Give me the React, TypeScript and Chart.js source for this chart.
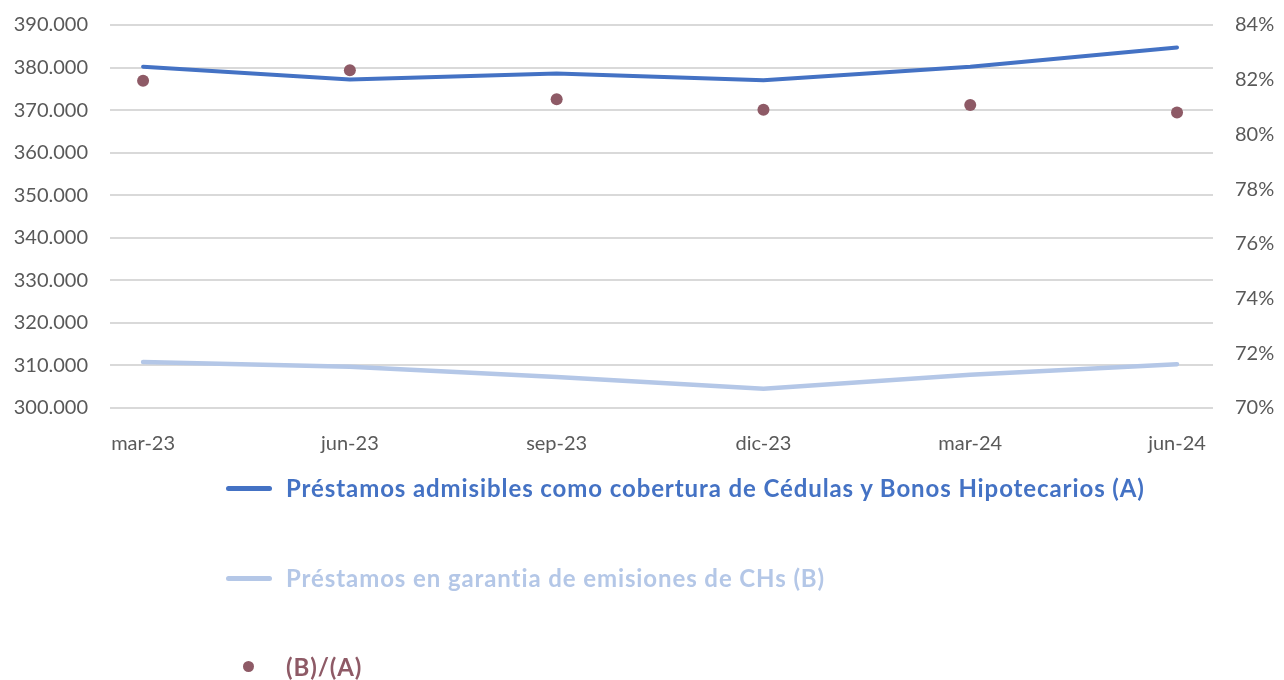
import React, { useEffect, useRef } from "react";
import { Chart, registerables } from "chart.js";

Chart.register(...registerables);

const categories = ["mar-23", "jun-23", "sep-23", "dic-23", "mar-24", "jun-24"];
const admisibles = [380200, 377200, 378600, 377000, 380200, 384700];
const garantia = [310800, 309700, 307300, 304500, 307800, 310300];
const ratio = [0.8196, 0.8235, 0.8129, 0.809, 0.8108, 0.808];

const labelA = "Préstamos admisibles como cobertura de Cédulas y Bonos Hipotecarios (A)";
const labelB = "Préstamos en garantia de emisiones de CHs (B)";
const labelC = "(B)/(A)";

const colA = "#4472C4";
const colB = "#B4C7E7";
const colC = "#8E5A66";
const FONT = "Lato, 'Open Sans', sans-serif";

const fmtThousands = (v: number) =>
  String(Math.round(v)).replace(/\B(?=(\d{3})+(?!\d))/g, ".");

export default function App() {
  const ref = useRef<HTMLCanvasElement | null>(null);

  useEffect(() => {
    document.body.style.margin = "0";
    const ctx = ref.current!.getContext("2d")!;
    const chart = new Chart(ctx, {
      type: "line",
      data: {
        datasets: [
          {
            label: labelA,
            data: admisibles.map((v, i) => ({ x: i, y: v })),
            borderColor: colA,
            backgroundColor: colA,
            borderWidth: 4,
            pointRadius: 0,
            borderCapStyle: "round",
            yAxisID: "y",
          },
          {
            label: labelB,
            data: garantia.map((v, i) => ({ x: i, y: v })),
            borderColor: colB,
            backgroundColor: colB,
            borderWidth: 4.5,
            pointRadius: 0,
            borderCapStyle: "round",
            yAxisID: "y",
          },
          {
            label: labelC,
            data: ratio.map((v, i) => ({ x: i, y: v })),
            showLine: false,
            borderColor: colC,
            backgroundColor: colC,
            pointRadius: 6,
            pointBorderWidth: 0,
            yAxisID: "y1",
          },
        ],
      },
      options: {
        animation: false,
        responsive: false,
        maintainAspectRatio: false,
        layout: { padding: { top: 16, left: 0, right: 0, bottom: 0 } },
        plugins: { legend: { display: false }, tooltip: { enabled: false } },
        scales: {
          x: {
            type: "linear",
            min: -0.16,
            max: 5.174,
            afterBuildTicks: (s: any) => {
              s.ticks = categories.map((_, i) => ({ value: i }));
            },
            afterFit: (s: any) => {
              s.height = 263;
            },
            grid: { display: false, drawTicks: false },
            border: { display: false },
            ticks: {
              autoSkip: false,
              maxRotation: 0,
              padding: 24,
              color: "#595959",
              font: { family: FONT, size: 20 },
              callback: (v: any) => categories[v as number] ?? "",
            },
          },
          y: {
            position: "left",
            min: 300000,
            max: 390000,
            afterFit: (s: any) => {
              s.width = 110;
            },
            grid: { color: "#D9D9D9", lineWidth: 2, drawTicks: false },
            border: { display: false },
            ticks: {
              stepSize: 10000,
              padding: 22,
              color: "#595959",
              font: { family: FONT, size: 20 },
              callback: (v: any) => fmtThousands(v as number),
            },
          },
          y1: {
            position: "right",
            min: 0.7,
            max: 0.84,
            afterFit: (s: any) => {
              s.width = 71;
            },
            grid: { display: false, drawTicks: false },
            border: { display: false },
            ticks: {
              stepSize: 0.02,
              padding: 22,
              color: "#595959",
              font: { family: FONT, size: 20 },
              callback: (v: any) => Math.round((v as number) * 100) + "%",
            },
          },
        },
      },
    });
    return () => chart.destroy();
  }, []);

  const textStyle: React.CSSProperties = {
    position: "absolute",
    left: 286,
    fontFamily: FONT,
    fontWeight: 700,
    fontSize: 24,
    letterSpacing: "0.9px",
    lineHeight: "28px",
    whiteSpace: "nowrap",
  };

  return (
    <div style={{ position: "relative", width: 1284, height: 680, background: "#fff", overflow: "hidden" }}>
      <canvas
        ref={ref}
        width={1284}
        height={680}
        style={{ display: "block", position: "absolute", left: 0, top: -9 }}
      />
      <div style={{ position: "absolute", left: 226, top: 486, width: 46, height: 5, borderRadius: 3, background: colA }} />
      <div style={{ ...textStyle, top: 474, color: colA }}>{labelA}</div>
      <div style={{ position: "absolute", left: 226, top: 576, width: 46, height: 5, borderRadius: 3, background: colB }} />
      <div style={{ ...textStyle, top: 564, color: colB }}>{labelB}</div>
      <div style={{ position: "absolute", left: 243, top: 661, width: 11, height: 11, borderRadius: "50%", background: colC }} />
      <div style={{ ...textStyle, top: 653, color: colC }}>{labelC}</div>
    </div>
  );
}
